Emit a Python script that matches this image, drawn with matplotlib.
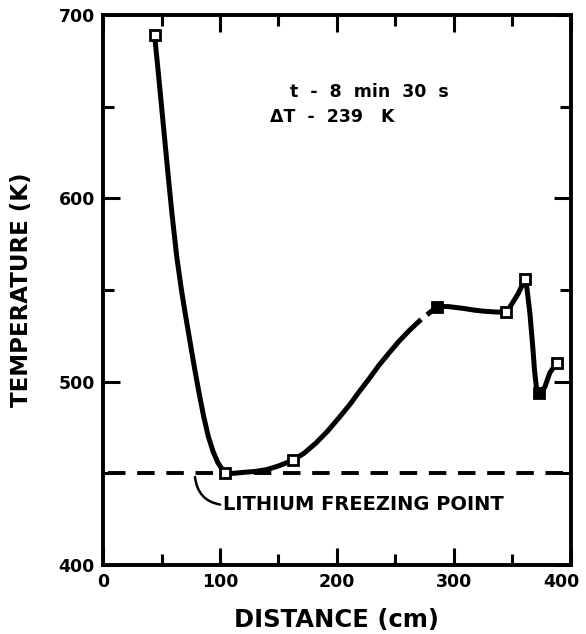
import matplotlib
matplotlib.use("Agg")
import matplotlib.pyplot as plt
import matplotlib.transforms as mtransforms
from matplotlib.ticker import MultipleLocator

# measured points (open / filled squares)
pt_x = [44, 104, 162, 286, 345, 361, 373, 388]
pt_y = [689, 450, 457, 541, 538, 556, 494, 510]
pt_filled = [False, False, False, True, False, False, True, False]

curve1_x = [44, 47, 50, 53, 56, 59, 63, 67, 70, 74, 78, 82, 86, 90, 94, 98, 102, 106, 112, 120,
            130, 140, 150, 162, 172, 182, 192, 202, 211, 219, 228, 236, 245, 253, 262, 272]
curve1_y = [689, 670, 650, 630, 610, 591, 568, 550, 538, 523, 508, 494, 481, 470, 462, 456, 452, 450, 450, 450.5,
            451, 452, 454, 457, 461, 466.5, 473, 480.5, 487.5, 494.5, 502, 509, 516, 522, 528, 534]
curve2_x = [277, 282, 286, 295, 308, 318, 325, 336, 345, 349, 355, 361, 362.5, 365, 367.5, 369,
            370.6, 373, 377.8, 382, 385.5, 388]
curve2_y = [536.5, 539, 541, 541, 540, 539, 538.5, 538, 538, 541.8, 548, 556, 551, 537.6, 519, 506,
            497, 494, 497, 504.7, 508, 510]

freeze_T = 450
xticks = [0, 100, 200, 300, 400]
yticks = [400, 500, 600, 700]

fig = plt.figure(figsize=(5.86, 6.34), dpi=100)
ax = fig.add_axes([0.176, 0.109, 0.798, 0.867])

for cx, cy in ((curve1_x, curve1_y), (curve2_x, curve2_y)):
    ax.plot(cx, cy, color='black', lw=3.6, solid_capstyle='butt',
            solid_joinstyle='round', zorder=3)
for x, y, f in zip(pt_x, pt_y, pt_filled):
    ax.plot([x], [y], marker='s', ms=6.5, mec='black', mew=2,
            mfc='black' if f else 'white', zorder=4)

ax.plot([4, 395], [freeze_T, freeze_T], color='black', lw=2.8, dashes=(4.5, 3.0), zorder=2)
ax.annotate('LITHIUM FREEZING POINT', xy=(78.6, freeze_T - 2), xytext=(102.5, 432.7),
            fontsize=14, fontweight='bold', va='center', ha='left',
            arrowprops=dict(arrowstyle='-', lw=1.8, color='black', relpos=(0, 0.5),
                            connectionstyle='arc3,rad=-0.4', shrinkA=0, shrinkB=0))

ax.text(160, 658, 't  -  8  min  30  s', fontsize=12.5, fontweight='bold', ha='left', va='center')
ax.text(143, 644.4, '\u0394T  -  239   K', fontsize=12.5, fontweight='bold', ha='left', va='center')

ax.set_xlim(0, 400)
ax.set_ylim(400, 700)
ax.set_xticks(xticks)
ax.set_yticks(yticks)
ax.xaxis.set_minor_locator(MultipleLocator(50))
ax.yaxis.set_minor_locator(MultipleLocator(50))
ax.tick_params(which='both', direction='in', top=True, right=True, width=2.2)
ax.tick_params(which='major', length=12.5, labelsize=12.5, pad=6)
ax.tick_params(which='minor', length=8)
for lab in ax.get_xticklabels() + ax.get_yticklabels():
    lab.set_fontweight('bold')
last = ax.get_xticklabels()[-1]
last.set_transform(last.get_transform() +
                   mtransforms.ScaledTranslation(-9 / 100, 0, fig.dpi_scale_trans))
for s in ax.spines.values():
    s.set_linewidth(2.8)

ax.set_xlabel('DISTANCE (cm)', fontsize=17.5, fontweight='bold', labelpad=12)
ax.set_ylabel('TEMPERATURE (K)', fontsize=16.5, fontweight='bold', labelpad=18)

fig.savefig('out.png', dpi=100)
